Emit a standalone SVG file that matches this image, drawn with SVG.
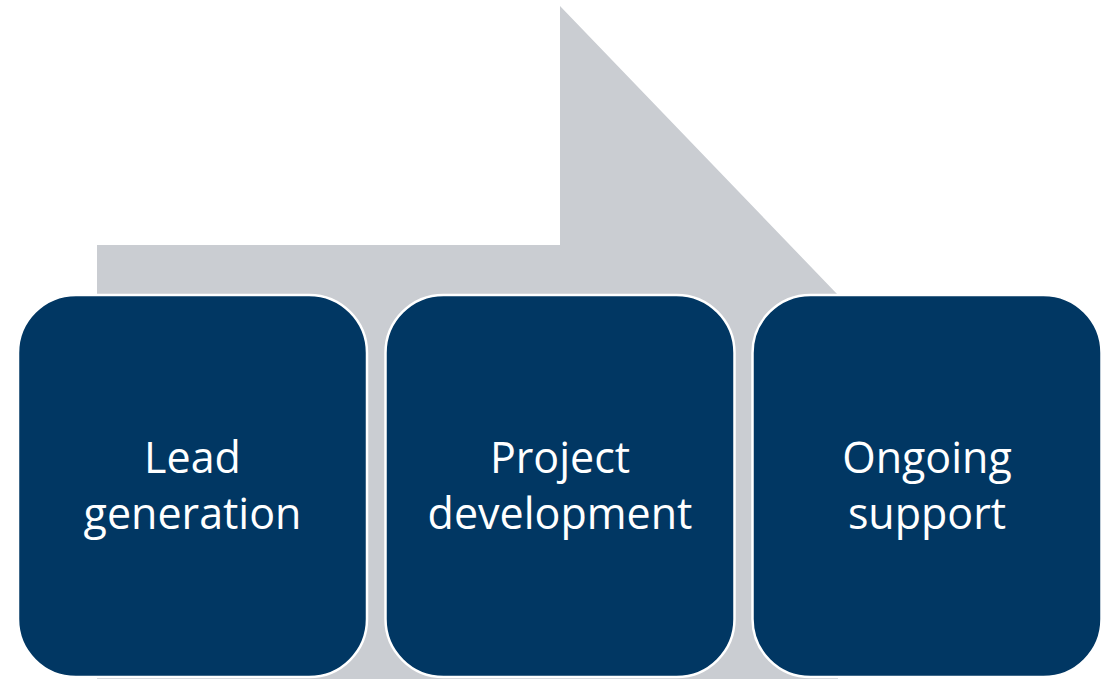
<svg xmlns="http://www.w3.org/2000/svg" width="1109" height="679" viewBox="0 0 1109 679">
<style>
.box{fill:#013763;stroke:#ffffff;stroke-width:2.5}
.lbl{fill:#ffffff;font-family:"Open Sans","DejaVu Sans",sans-serif;font-size:43px;text-anchor:middle}
</style>
<rect width="1109" height="679" fill="#ffffff"/>
<g id="connectors">
<polygon points="97,245 560,245 560,6 838,295 838,679 97,679" fill="#CACDD2"/>
</g>
<g id="node1">
<rect class="box" x="18" y="295" width="349" height="382" rx="58" ry="58"/>
<text class="lbl" x="192.5" y="473">Lead</text>
<text class="lbl" x="192.5" y="529">generation</text>
</g>
<g id="node2">
<rect class="box" x="385.5" y="295" width="349" height="382" rx="58" ry="58"/>
<text class="lbl" x="560" y="473">Project</text>
<text class="lbl" x="560" y="529">development</text>
</g>
<g id="node3">
<rect class="box" x="752.5" y="295" width="349" height="382" rx="58" ry="58"/>
<text class="lbl" x="927" y="473">Ongoing</text>
<text class="lbl" x="927" y="529">support</text>
</g>
</svg>
